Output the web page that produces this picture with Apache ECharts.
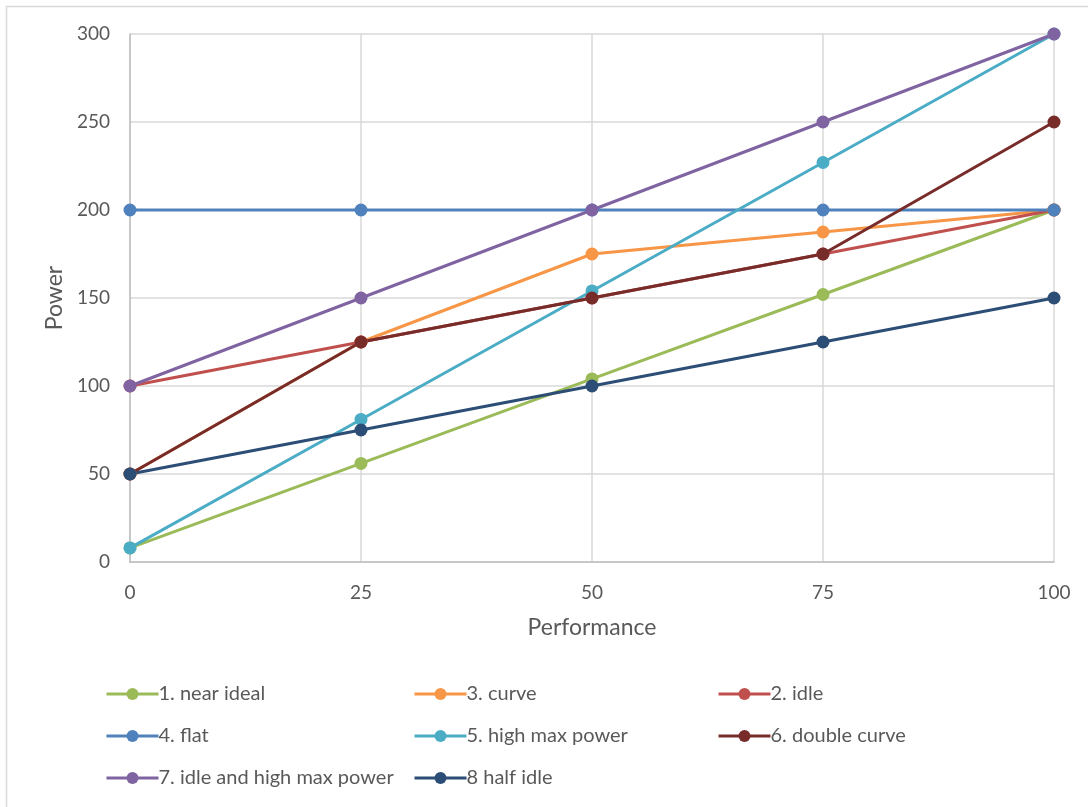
<!DOCTYPE html>
<html>
<head>
<meta charset="utf-8">
<style>
  html, body { margin: 0; padding: 0; background: #fff; }
  #chart { width: 1088px; height: 807px; }
</style>
<script src="https://cdn.jsdelivr.net/npm/echarts@6/dist/echarts.min.js"></script>
</head>
<body>
<div id="chart"></div>
<script>
// Performance levels (x) and power draw for each server profile
const performance = [0, 25, 50, 75, 100];
const nearIdeal = [8, 56, 104, 152, 200];
const curve = [50, 125, 175, 187.5, 200];
const idle = [100, 125, 150, 175, 200];
const flat = [200, 200, 200, 200, 200];
const highMaxPower = [8, 81, 154, 227, 300];
const doubleCurve = [50, 125, 150, 175, 250];
const idleHighMax = [100, 150, 200, 250, 300];
const halfIdle = [50, 75, 100, 125, 150];

const seriesDefs = [
  { name: '1. near ideal', data: nearIdeal, color: '#9BBB59' },
  { name: '3. curve', data: curve, color: '#F79646' },
  { name: '2. idle', data: idle, color: '#C0504D' },
  { name: '4. flat', data: flat, color: '#4F81BD' },
  { name: '5. high max power', data: highMaxPower, color: '#4BACC6' },
  { name: '6. double curve', data: doubleCurve, color: '#772C2A' },
  { name: '7. idle and high max power', data: idleHighMax, color: '#8064A2' },
  { name: '8 half idle', data: halfIdle, color: '#2C4D75' }
];

const FONT = 'Lato, "Open Sans", sans-serif';
const TEXT = '#595959';

const legendBase = {
  orient: 'vertical',
  top: 679,
  itemWidth: 52,
  itemHeight: 15,
  itemGap: 22,
  lineStyle: { width: 3 },
  textStyle: { color: TEXT, fontSize: 20, lineHeight: 20, fontFamily: FONT, padding: [0, 0, 0, -5] }
};

const chart = echarts.init(document.getElementById('chart'), null, { renderer: 'canvas' });
chart.setOption({
  backgroundColor: '#ffffff',
  animation: false,
  graphic: [{
    type: 'rect',
    shape: { x: 6.5, y: 6.5, width: 1100, height: 820 },
    style: { fill: 'none', stroke: '#d9d9d9', lineWidth: 1.5 },
    silent: true
  }],
  grid: { left: 130, right: 34, top: 34, bottom: 245 },
  legend: [
    Object.assign({}, legendBase, { left: 100, data: ['1. near ideal', '4. flat', '7. idle and high max power'] }),
    Object.assign({}, legendBase, { left: 408, data: ['3. curve', '5. high max power', '8 half idle'] }),
    Object.assign({}, legendBase, { left: 712, data: ['2. idle', '6. double curve'] })
  ],
  xAxis: {
    type: 'value',
    min: 0, max: 100, interval: 25,
    name: 'Performance',
    nameLocation: 'middle',
    nameGap: 54,
    nameTextStyle: { color: TEXT, fontSize: 23, fontFamily: FONT },
    axisLine: { show: true, lineStyle: { color: '#bfbfbf', width: 1.5 } },
    axisTick: { show: false },
    axisLabel: { color: TEXT, fontSize: 19, fontFamily: FONT, margin: 21 },
    splitLine: { show: true, lineStyle: { color: '#d9d9d9', width: 1.5 } }
  },
  yAxis: {
    type: 'value',
    min: 0, max: 300, interval: 50,
    name: 'Power',
    nameLocation: 'middle',
    nameGap: 63,
    nameRotate: 90,
    nameTextStyle: { color: TEXT, fontSize: 23, fontFamily: FONT },
    axisLine: { show: true, lineStyle: { color: '#bfbfbf', width: 1.5 } },
    axisTick: { show: false },
    axisLabel: { color: TEXT, fontSize: 19, fontFamily: FONT, margin: 20 },
    splitLine: { show: true, lineStyle: { color: '#d9d9d9', width: 1.5 } }
  },
  series: seriesDefs.map(s => ({
    name: s.name,
    type: 'line',
    data: performance.map((p, i) => [p, s.data[i]]),
    symbol: 'circle',
    symbolSize: 13,
    showSymbol: true,
    lineStyle: { color: s.color, width: 3 },
    itemStyle: { color: s.color },
    emphasis: { disabled: true }
  }))
});
</script>
</body>
</html>
